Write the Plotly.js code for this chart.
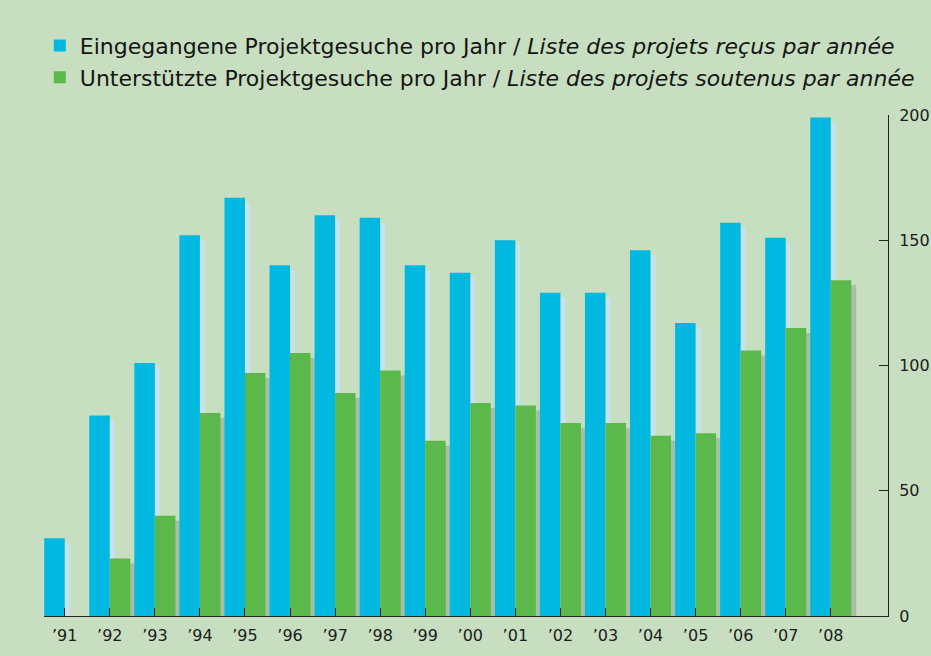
<!DOCTYPE html>
<html>
<head>
<meta charset="utf-8">
<script src="https://cdn.plot.ly/plotly-3.0.1.min.js"></script>
<style>
html,body{margin:0;padding:0;background:#c8dec0;}
#chart{width:931px;height:656px;}
</style>
</head>
<body>
<div id="chart"></div>
<script>
// ---- data ----
const years = ['’91','’92','’93','’94','’95','’96','’97','’98','’99','’00','’01','’02','’03','’04','’05','’06','’07','’08'];
const received  = [31, 80, 101, 152, 167, 140, 160, 159, 140, 137, 150, 129, 129, 146, 117, 157, 151, 199];
const supported = [0, 23, 40, 81, 97, 105, 89, 98, 70, 85, 84, 77, 77, 72, 73, 106, 115, 134];
const nameReceived  = 'Eingegangene Projektgesuche pro Jahr / <i>Liste des projets reçus par année</i>';
const nameSupported = 'Unterstützte Projektgesuche pro Jahr / <i>Liste des projets soutenus par année</i>';
const yTicks = [0, 50, 100, 150, 200];

// ---- style ----
const BG = '#c8dec0';
const BLUE = '#00b8e0';
const GREEN = '#5ab94a';
const BLUE_SH = '#c4e3ee';
const GREEN_SH = '#a8bea3';
const W = 0.455;       // bar width (category units)
const SH_DX = 0.11;    // shadow shift right
const SH_DY = 2;       // shadow drop (value units)
const FONT = 'DejaVu Sans, Liberation Sans, Arial, sans-serif';

const shadow = arr => arr.map(v => v > 0 ? Math.max(0, v - SH_DY) : null);

const traces = [
  {type:'bar', x:years, y:shadow(received), offset:-W+SH_DX, width:W,
   marker:{color:BLUE_SH, line:{width:0}}, showlegend:false, hoverinfo:'skip'},
  {type:'bar', x:years, y:shadow(supported), offset:SH_DX, width:W,
   marker:{color:GREEN_SH, line:{width:0}}, showlegend:false, hoverinfo:'skip'},
  {type:'bar', x:years, y:received, offset:-W, width:W, name:nameReceived,
   marker:{color:BLUE, line:{width:0}}},
  {type:'bar', x:years, y:supported.map(v => v > 0 ? v : null), offset:0, width:W, name:nameSupported,
   marker:{color:GREEN, line:{width:0}}}
];

const layout = {
  width:931, height:656,
  paper_bgcolor:BG, plot_bgcolor:BG,
  margin:{l:44, r:43, t:115, b:40, pad:0},
  barmode:'overlay',
  font:{family:FONT, color:'#1c1c1c'},
  showlegend:true,
  legend:{
    x:-0.005, xanchor:'left', y:1.18, yanchor:'top',
    bgcolor:'rgba(0,0,0,0)', borderwidth:0,
    font:{family:FONT, size:22, color:'#151515'},
    traceorder:'normal', itemclick:false, itemdoubleclick:false,
    tracegroupgap:0
  },
  xaxis:{
    type:'category', range:[-0.46, 18.27],
    showline:true, linecolor:'#222', linewidth:1,
    ticks:'inside', ticklen:8, tickcolor:'#222', tickwidth:1,
    tickfont:{family:FONT, size:16, color:'#1c1c1c'},
    ticklabelstandoff:5,
    showgrid:false, zeroline:false, fixedrange:true
  },
  yaxis:{
    side:'right', range:[0, 200],
    tickvals:yTicks, ticktext:yTicks.map(String),
    showline:true, linecolor:'#222', linewidth:1,
    ticks:'inside', ticklen:9, tickcolor:'#222', tickwidth:1,
    tickfont:{family:FONT, size:16, color:'#1c1c1c'},
    ticklabelstandoff:7,
    showgrid:false, zeroline:false, fixedrange:true
  }
};

Plotly.newPlot('chart', traces, layout, {displayModeBar:false, staticPlot:true});
</script>
</body>
</html>
